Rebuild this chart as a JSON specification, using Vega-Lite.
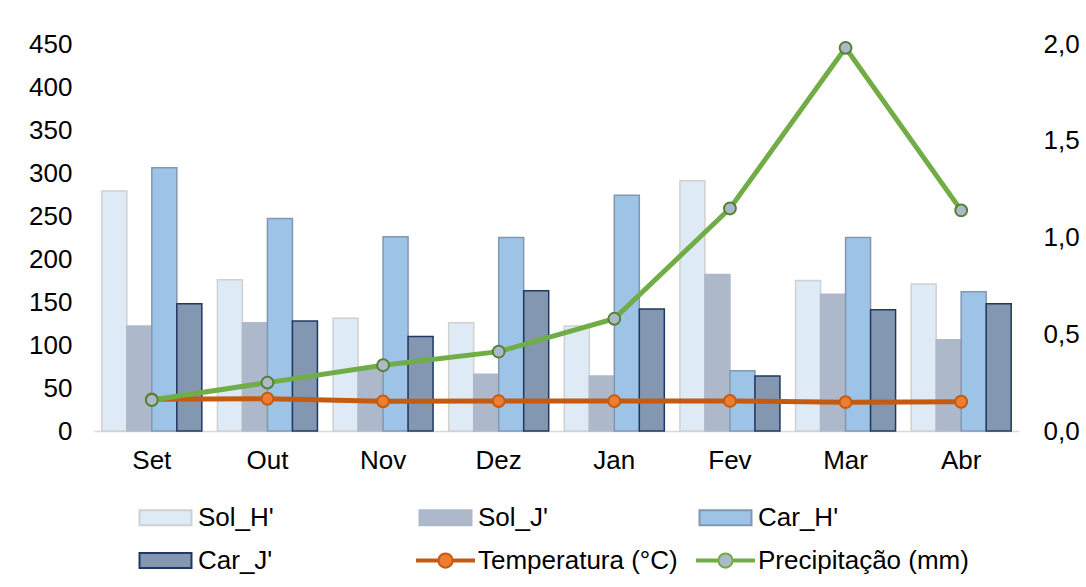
{
  "$schema": "https://vega.github.io/schema/vega-lite/v6.json",
  "width": 925,
  "height": 387,
  "autosize": {"type": "none"},
  "padding": {"left": 94, "top": 44, "right": 67, "bottom": 156},
  "background": "white",
  "config": {
    "font": "Liberation Sans",
    "view": {"stroke": null},
    "axis": {"grid": false, "ticks": false, "labelFontSize": 26, "labelColor": "#000000"}
  },
  "datasets": {
    "barras": [
      {"mes": "Set", "serie": "Sol_H'", "valor": 279}, {"mes": "Set", "serie": "Sol_J'", "valor": 122}, {"mes": "Set", "serie": "Car_H'", "valor": 306}, {"mes": "Set", "serie": "Car_J'", "valor": 148},
      {"mes": "Out", "serie": "Sol_H'", "valor": 176}, {"mes": "Out", "serie": "Sol_J'", "valor": 126}, {"mes": "Out", "serie": "Car_H'", "valor": 247}, {"mes": "Out", "serie": "Car_J'", "valor": 128},
      {"mes": "Nov", "serie": "Sol_H'", "valor": 131}, {"mes": "Nov", "serie": "Sol_J'", "valor": 73}, {"mes": "Nov", "serie": "Car_H'", "valor": 226}, {"mes": "Nov", "serie": "Car_J'", "valor": 110},
      {"mes": "Dez", "serie": "Sol_H'", "valor": 126}, {"mes": "Dez", "serie": "Sol_J'", "valor": 66}, {"mes": "Dez", "serie": "Car_H'", "valor": 225}, {"mes": "Dez", "serie": "Car_J'", "valor": 163},
      {"mes": "Jan", "serie": "Sol_H'", "valor": 122}, {"mes": "Jan", "serie": "Sol_J'", "valor": 64}, {"mes": "Jan", "serie": "Car_H'", "valor": 274}, {"mes": "Jan", "serie": "Car_J'", "valor": 142},
      {"mes": "Fev", "serie": "Sol_H'", "valor": 291}, {"mes": "Fev", "serie": "Sol_J'", "valor": 182}, {"mes": "Fev", "serie": "Car_H'", "valor": 70}, {"mes": "Fev", "serie": "Car_J'", "valor": 64},
      {"mes": "Mar", "serie": "Sol_H'", "valor": 175}, {"mes": "Mar", "serie": "Sol_J'", "valor": 159}, {"mes": "Mar", "serie": "Car_H'", "valor": 225}, {"mes": "Mar", "serie": "Car_J'", "valor": 141},
      {"mes": "Abr", "serie": "Sol_H'", "valor": 171}, {"mes": "Abr", "serie": "Sol_J'", "valor": 106}, {"mes": "Abr", "serie": "Car_H'", "valor": 162}, {"mes": "Abr", "serie": "Car_J'", "valor": 148}
    ],
    "temp": [
      {"mes": "Set", "serie": "Temperatura (°C)", "valor": 36.8},
      {"mes": "Out", "serie": "Temperatura (°C)", "valor": 37.5},
      {"mes": "Nov", "serie": "Temperatura (°C)", "valor": 34.5},
      {"mes": "Dez", "serie": "Temperatura (°C)", "valor": 34.8},
      {"mes": "Jan", "serie": "Temperatura (°C)", "valor": 34.8},
      {"mes": "Fev", "serie": "Temperatura (°C)", "valor": 35.0},
      {"mes": "Mar", "serie": "Temperatura (°C)", "valor": 33.5},
      {"mes": "Abr", "serie": "Temperatura (°C)", "valor": 34.0}
    ],
    "prec": [
      {"mes": "Set", "serie": "Precipitação (mm)", "valor": 0.16},
      {"mes": "Out", "serie": "Precipitação (mm)", "valor": 0.25},
      {"mes": "Nov", "serie": "Precipitação (mm)", "valor": 0.34},
      {"mes": "Dez", "serie": "Precipitação (mm)", "valor": 0.41},
      {"mes": "Jan", "serie": "Precipitação (mm)", "valor": 0.58},
      {"mes": "Fev", "serie": "Precipitação (mm)", "valor": 1.15},
      {"mes": "Mar", "serie": "Precipitação (mm)", "valor": 1.98},
      {"mes": "Abr", "serie": "Precipitação (mm)", "valor": 1.14}
    ]
  },
  "layer": [
    {
      "layer": [
        {
          "data": {"name": "barras"},
          "mark": {"type": "bar", "strokeWidth": 1.5},
          "encoding": {
            "x": {"field": "mes", "type": "nominal", "sort": ["Set", "Out", "Nov", "Dez", "Jan", "Fev", "Mar", "Abr"], "title": null,
                  "scale": {"paddingInner": 0.135, "paddingOuter": 0.0675},
                  "axis": {"domainColor": "#D9D9D9", "domainWidth": 1.5, "labelPadding": 16, "labelAngle": 0}},
            "xOffset": {"field": "serie", "type": "nominal", "sort": ["Sol_H'", "Sol_J'", "Car_H'", "Car_J'"], "scale": {"paddingInner": 0, "paddingOuter": 0}},
            "y": {"field": "valor", "type": "quantitative", "title": null, "scale": {"domain": [0, 450], "nice": false},
                  "axis": {"values": [0, 50, 100, 150, 200, 250, 300, 350, 400, 450], "domain": false, "labelPadding": 22}},
            "fill": {"field": "serie", "type": "nominal",
                     "scale": {"domain": ["Sol_H'", "Sol_J'", "Car_H'", "Car_J'", "Temperatura (°C)", "Precipitação (mm)"],
                               "range": ["#DEEBF7", "#ADB9CA", "#9DC3E6", "#8497B0", "#ED7D31", "#ADB9CA"]},
                     "legend": {"title": null, "orient": "none", "legendX": 42, "legendY": 444, "direction": "horizontal", "columns": 3, "gridAlign": "all",
                                "columnPadding": 4, "rowPadding": -13, "labelFontSize": 26, "labelColor": "#000000", "labelOffset": 3, "labelLimit": 400,
                                "padding": 0, "symbolOpacity": 1, "symbolStrokeWidth": 2, "symbolSize": 3249,
                                "encode": {"symbols": {"update": {"shape": {"signal": "datum.index > 3 ? 'M-1,-0.035H-0.25V0.035H-1Z M0.25,-0.035H1V0.035H0.25Z M0.25,0A0.25,0.25,0,1,1,-0.25,0A0.25,0.25,0,1,1,0.25,0Z' : 'M-0.912,-0.263H0.912V0.263H-0.912Z'"}}}}}},
            "stroke": {"field": "serie", "type": "nominal",
                       "scale": {"domain": ["Sol_H'", "Sol_J'", "Car_H'", "Car_J'", "Temperatura (°C)", "Precipitação (mm)"],
                                 "range": ["#D0D0D0", "#ADB9CA", "#8497B0", "#1F3864", "#C55A11", "#70AD47"]},
                       "legend": {"title": null, "orient": "none", "legendX": 42, "legendY": 444, "direction": "horizontal", "columns": 3, "gridAlign": "all",
                                "columnPadding": 4, "rowPadding": -13, "labelFontSize": 26, "labelColor": "#000000", "labelOffset": 3, "labelLimit": 400,
                                "padding": 0, "symbolOpacity": 1, "symbolStrokeWidth": 2, "symbolSize": 3249,
                                "encode": {"symbols": {"update": {"shape": {"signal": "datum.index > 3 ? 'M-1,-0.035H-0.25V0.035H-1Z M0.25,-0.035H1V0.035H0.25Z M0.25,0A0.25,0.25,0,1,1,-0.25,0A0.25,0.25,0,1,1,0.25,0Z' : 'M-0.912,-0.263H0.912V0.263H-0.912Z'"}}}}}}
          }
        },
        {
          "data": {"name": "temp"},
          "mark": {"type": "line", "strokeWidth": 5},
          "encoding": {
            "x": {"field": "mes", "type": "nominal", "sort": ["Set", "Out", "Nov", "Dez", "Jan", "Fev", "Mar", "Abr"], "title": null},
            "y": {"field": "valor", "type": "quantitative", "title": null},
            "stroke": {"field": "serie", "type": "nominal"}
          }
        },
        {
          "data": {"name": "temp"},
          "mark": {"type": "point", "filled": true, "size": 140, "strokeWidth": 2, "opacity": 1},
          "encoding": {
            "x": {"field": "mes", "type": "nominal", "sort": ["Set", "Out", "Nov", "Dez", "Jan", "Fev", "Mar", "Abr"], "title": null},
            "y": {"field": "valor", "type": "quantitative", "title": null},
            "fill": {"field": "serie", "type": "nominal"},
            "stroke": {"value": "#C55A11"}
          }
        }
      ]
    },
    {
      "layer": [
        {
          "data": {"name": "prec"},
          "mark": {"type": "line", "strokeWidth": 5},
          "encoding": {
            "x": {"field": "mes", "type": "nominal", "sort": ["Set", "Out", "Nov", "Dez", "Jan", "Fev", "Mar", "Abr"], "title": null},
            "y": {"field": "valor", "type": "quantitative", "title": null, "scale": {"domain": [0, 2], "nice": false},
                  "axis": {"orient": "right", "values": [0, 0.5, 1, 1.5, 2], "domain": false, "labelPadding": 24,
                           "labelExpr": "replace(format(datum.value, '.1f'), '.', ',')"}},
            "stroke": {"field": "serie", "type": "nominal"}
          }
        },
        {
          "data": {"name": "prec"},
          "mark": {"type": "point", "filled": true, "size": 140, "strokeWidth": 2, "opacity": 1},
          "encoding": {
            "x": {"field": "mes", "type": "nominal", "sort": ["Set", "Out", "Nov", "Dez", "Jan", "Fev", "Mar", "Abr"], "title": null},
            "y": {"field": "valor", "type": "quantitative", "title": null},
            "fill": {"field": "serie", "type": "nominal"},
            "stroke": {"value": "#548235"}
          }
        }
      ]
    }
  ],
  "resolve": {"scale": {"y": "independent"}}
}
